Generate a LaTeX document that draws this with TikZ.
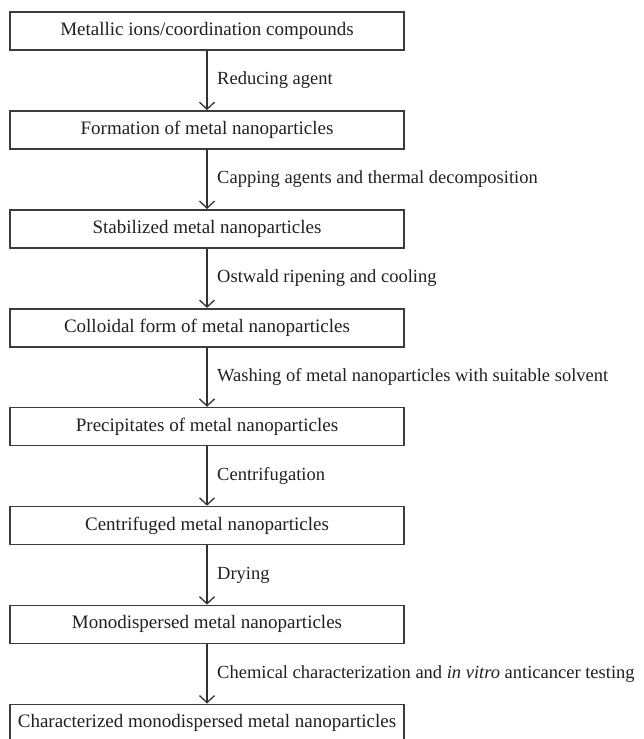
\documentclass[tikz,border=0pt]{standalone}
\usepackage{fontspec}
\setmainfont{Liberation Serif}
\usepackage{xcolor}
\definecolor{BoxBorder}{RGB}{60,60,60}
\definecolor{ArrowColor}{RGB}{50,50,50}
\definecolor{TextColor}{RGB}{35,31,32}
\usepackage{tikz}
\usetikzlibrary{
  positioning,
  arrows.meta,
  calc
}
\tikzset{
  % Process step box
  procbox/.style={
    rectangle,
    draw=BoxBorder,
    line width=1.6pt,
    minimum width=394pt,
    minimum height=38pt,
    inner sep=0pt,
    text=TextColor,
    font=\fontsize{19}{23}\selectfont
  },
  % Arrow between steps
  flowarrow/.style={
    draw=ArrowColor,
    line width=1.3pt,
    -{Straight Barb[length=7pt,width=15pt,line width=1.3pt]}
  },
  % Label beside an arrow
  steplabel/.style={
    anchor=west,
    inner sep=0pt,
    text=TextColor,
    font=\fontsize{18.5}{22}\selectfont
  }
}

\begin{document}
\begin{tikzpicture}[x=1pt,y=1pt]
  \useasboundingbox (0,0) rectangle (643,-739);

  \node[procbox] (s1) at (207,-31)    {Metallic ions/coordination compounds};
  \node[procbox] (s2) at (207,-129.9) {Formation of metal nanoparticles};
  \node[procbox] (s3) at (207,-228.8) {Stabilized metal nanoparticles};
  \node[procbox] (s4) at (207,-327.7) {Colloidal form of metal nanoparticles};
  \node[procbox] (s5) at (207,-426.6) {Precipitates of metal nanoparticles};
  \node[procbox] (s6) at (207,-525.5) {Centrifuged metal nanoparticles};
  \node[procbox] (s7) at (207,-624.4) {Monodispersed metal nanoparticles};
  \node[procbox] (s8) at (207,-723.3) {Characterized monodispersed metal nanoparticles};

  \draw[flowarrow] (s1) -- (s2);
  \draw[flowarrow] (s2) -- (s3);
  \draw[flowarrow] (s3) -- (s4);
  \draw[flowarrow] (s4) -- (s5);
  \draw[flowarrow] (s5) -- (s6);
  \draw[flowarrow] (s6) -- (s7);
  \draw[flowarrow] (s7) -- (s8);

  \node[steplabel] (l1) at ($(s1.south)!0.5!(s2.north)+(10,0)$) {Reducing agent};
  \node[steplabel] (l2) at ($(s2.south)!0.5!(s3.north)+(10,0)$) {Capping agents and thermal decomposition};
  \node[steplabel] (l3) at ($(s3.south)!0.5!(s4.north)+(10,0)$) {Ostwald ripening and cooling};
  \node[steplabel] (l4) at ($(s4.south)!0.5!(s5.north)+(10,0)$) {Washing of metal nanoparticles with suitable solvent};
  \node[steplabel] (l5) at ($(s5.south)!0.5!(s6.north)+(10,0)$) {Centrifugation};
  \node[steplabel] (l6) at ($(s6.south)!0.5!(s7.north)+(10,0)$) {Drying};
  \node[steplabel] (l7) at ($(s7.south)!0.5!(s8.north)+(10,0)$) {Chemical characterization and \textit{in vitro} anticancer testing};
\end{tikzpicture}
\end{document}
